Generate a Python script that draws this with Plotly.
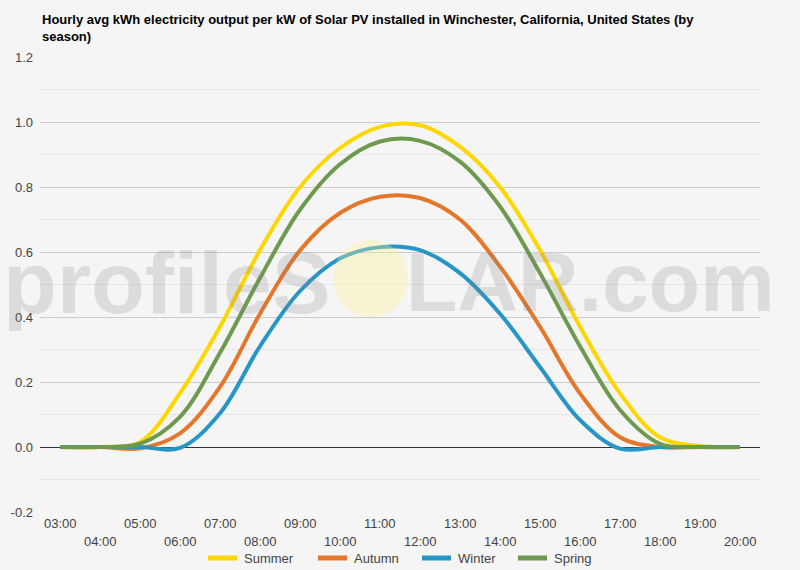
import plotly.graph_objects as go

hours = ["03:00", "04:00", "05:00", "06:00", "07:00", "08:00", "09:00", "10:00", "11:00",
         "12:00", "13:00", "14:00", "15:00", "16:00", "17:00", "18:00", "19:00", "20:00"]

summer = [0.0, 0.0, 0.015, 0.166, 0.37, 0.606, 0.80, 0.92, 0.985, 0.99, 0.924, 0.80, 0.606, 0.37, 0.165, 0.03, 0.003, 0.0]
autumn = [0.0, 0.0, -0.004, 0.042, 0.185, 0.41, 0.605, 0.72, 0.77, 0.766, 0.70, 0.555, 0.37, 0.165, 0.03, 0.0, 0.0, 0.0]
winter = [0.0, 0.0, 0.0, -0.003, 0.104, 0.31, 0.48, 0.58, 0.615, 0.606, 0.535, 0.41, 0.246, 0.083, -0.005, 0.0, 0.0, 0.0]
spring = [0.0, 0.0, 0.01, 0.093, 0.29, 0.52, 0.73, 0.87, 0.94, 0.942, 0.878, 0.74, 0.535, 0.31, 0.114, 0.01, 0.0, 0.0]

series_names = ["Summer", "Autumn", "Winter", "Spring"]
series_values = [summer, autumn, winter, spring]
series_colors = ["#FFD700", "#E5772A", "#2796C6", "#6E9A50"]

y_ticks = [-0.2, 0.0, 0.2, 0.4, 0.6, 0.8, 1.0, 1.2]
title = ("Hourly avg kWh electricity output per kW of Solar PV installed in Winchester, California, United States (by"
         "<br>season)")

W, H = 800, 570
L, R, T, B = 40, 40, 57, 58
pw, ph = W - L - R, H - T - B

def px_x(x):
    return (x - L) / pw

def px_y(y):
    return (H - B - y) / ph

fig = go.Figure()

# minor gridlines (0.1 steps)
minor = [round(-0.1 + 0.2 * i, 1) for i in range(7)]
for v in minor:
    fig.add_shape(type="line", xref="paper", yref="y", x0=0, x1=1, y0=v, y1=v,
                  line=dict(color="#e6e6e6", width=1), layer="below")

for name, vals, col in zip(series_names, series_values, series_colors):
    fig.add_trace(go.Scatter(x=hours, y=vals, name=name, mode="lines",
                             line=dict(color=col, width=4, shape="spline", smoothing=1.0),
                             showlegend=False))

# watermark
wm_font = dict(family="Liberation Sans, Arial", size=88, color="rgba(128,128,128,0.21)", weight="bold")
fig.add_annotation(text="profileS", xref="paper", yref="paper", x=px_x(333), y=px_y(282),
                   xanchor="right", yanchor="middle", showarrow=False, font=wm_font)
fig.add_annotation(text="LAR.com", xref="paper", yref="paper", x=px_x(404), y=px_y(282),
                   xanchor="left", yanchor="middle", showarrow=False,
                   font=dict(wm_font, size=84))
fig.add_shape(type="circle", xref="paper", yref="paper",
              x0=px_x(333), x1=px_x(408), y0=px_y(317), y1=px_y(240),
              fillcolor="rgba(255,240,150,0.35)", line=dict(width=0), layer="above")

# title
fig.add_annotation(text="<b>" + title + "</b>", xref="paper", yref="paper",
                   x=0, y=px_y(10), xanchor="left", yanchor="top", align="left",
                   showarrow=False,
                   font=dict(family="Arial, Liberation Sans", size=13, color="#000000"))

# staggered x tick labels
for i, h in enumerate(hours):
    fig.add_annotation(text=h, x=h, xref="x", yref="paper",
                       y=px_y(523 if i % 2 == 0 else 541), yanchor="middle",
                       showarrow=False, font=dict(family="Arial, Liberation Sans", size=13, color="#444444"))

# custom legend
leg_sym_x = [208, 318, 422, 518]
for name, col, sx in zip(series_names, series_colors, leg_sym_x):
    fig.add_shape(type="line", xref="paper", yref="paper", x0=px_x(sx), x1=px_x(sx + 29),
                  y0=px_y(558), y1=px_y(558), line=dict(color=col, width=5))
    fig.add_annotation(text=name, xref="paper", yref="paper", x=px_x(sx + 34), y=px_y(558),
                       xanchor="left", yanchor="middle", showarrow=False,
                       font=dict(family="Arial, Liberation Sans", size=13, color="#444444"))

fig.update_layout(
    width=W, height=H,
    margin=dict(l=L, r=R, t=T, b=B),
    paper_bgcolor="#f5f5f5", plot_bgcolor="#f5f5f5",
    showlegend=False,
    xaxis=dict(type="category", range=[-0.5, len(hours) - 0.5], showticklabels=False,
               showgrid=False, zeroline=False, showline=False, fixedrange=True),
    yaxis=dict(range=[-0.2, 1.2], tickvals=y_ticks, ticktext=[f"{v:.1f}" for v in y_ticks],
               showgrid=True, gridcolor="#cccccc", gridwidth=1,
               zeroline=True, zerolinecolor="#333333", zerolinewidth=1,
               tickfont=dict(family="Arial, Liberation Sans", size=13, color="#444444"),
               ticklabelstandoff=6, showline=False),
)

fig.write_html("out.html")
